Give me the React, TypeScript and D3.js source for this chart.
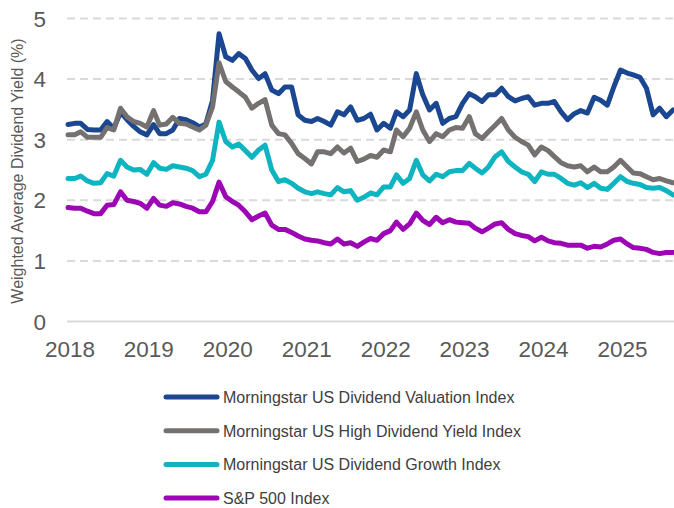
import React from "react";
import * as d3 from "d3";

// Monthly observations, Jan 2018 – Sep 2025
const startMonth = new Date(2018, 0, 1);
const endMonth = new Date(2025, 8, 1);
const months: Date[] = d3.timeMonth.range(startMonth, d3.timeMonth.offset(endMonth, 1));

const valuation = [
  3.25, 3.27, 3.27, 3.17, 3.16, 3.16, 3.30, 3.19, 3.45, 3.33, 3.22, 3.13,
  3.08, 3.25, 3.10, 3.10, 3.16, 3.35, 3.33, 3.28, 3.21, 3.26, 3.65, 4.75,
  4.37, 4.31, 4.42, 4.34, 4.15, 4.01, 4.09, 3.82, 3.76, 3.87, 3.87, 3.41,
  3.32, 3.30, 3.35, 3.30, 3.24, 3.46, 3.41, 3.54, 3.32, 3.35, 3.42, 3.16,
  3.27, 3.19, 3.46, 3.38, 3.49, 4.09, 3.74, 3.49, 3.60, 3.27, 3.35, 3.38,
  3.60, 3.76, 3.71, 3.63, 3.74, 3.74, 3.85, 3.71, 3.64, 3.68, 3.71, 3.57,
  3.60, 3.60, 3.63, 3.46, 3.33, 3.43, 3.48, 3.44, 3.70, 3.65, 3.57, 3.87,
  4.15, 4.10, 4.07, 4.03, 3.85, 3.41, 3.52, 3.38, 3.49,
];

const highYield = [
  3.08, 3.08, 3.13, 3.04, 3.04, 3.04, 3.20, 3.16, 3.52, 3.38, 3.30, 3.27,
  3.21, 3.48, 3.24, 3.26, 3.37, 3.27, 3.26, 3.21, 3.16, 3.24, 3.54, 4.27,
  3.96, 3.87, 3.79, 3.70, 3.52, 3.60, 3.66, 3.24, 3.10, 3.08, 2.94, 2.77,
  2.69, 2.60, 2.80, 2.80, 2.77, 2.88, 2.78, 2.86, 2.64, 2.68, 2.74, 2.71,
  2.83, 2.80, 3.16, 3.05, 3.19, 3.46, 3.16, 2.97, 3.10, 3.05, 3.16, 3.20,
  3.19, 3.38, 3.10, 3.02, 3.13, 3.24, 3.35, 3.16, 3.04, 2.97, 2.91, 2.75,
  2.88, 2.82, 2.72, 2.62, 2.57, 2.55, 2.57, 2.47, 2.55, 2.47, 2.47, 2.55,
  2.66, 2.55, 2.45, 2.44, 2.39, 2.34, 2.36, 2.32, 2.29,
];

const growth = [
  2.36, 2.36, 2.40, 2.32, 2.28, 2.29, 2.44, 2.40, 2.66, 2.55, 2.50, 2.51,
  2.43, 2.62, 2.53, 2.51, 2.57, 2.55, 2.53, 2.49, 2.39, 2.43, 2.66, 3.29,
  2.97, 2.88, 2.93, 2.82, 2.71, 2.83, 2.91, 2.50, 2.31, 2.34, 2.28, 2.20,
  2.14, 2.11, 2.14, 2.11, 2.09, 2.21, 2.14, 2.16, 2.00, 2.05, 2.12, 2.09,
  2.22, 2.22, 2.42, 2.28, 2.36, 2.66, 2.42, 2.32, 2.43, 2.39, 2.47, 2.49,
  2.49, 2.61, 2.53, 2.45, 2.55, 2.72, 2.80, 2.64, 2.55, 2.47, 2.43, 2.31,
  2.47, 2.43, 2.43, 2.36, 2.28, 2.25, 2.29, 2.21, 2.28, 2.20, 2.18, 2.28,
  2.39, 2.31, 2.28, 2.26, 2.21, 2.20, 2.21, 2.16, 2.09,
];

const sp500 = [
  1.88, 1.87, 1.87, 1.82, 1.78, 1.78, 1.92, 1.93, 2.14, 2.00, 1.98, 1.95,
  1.87, 2.03, 1.92, 1.90, 1.96, 1.94, 1.90, 1.87, 1.81, 1.81, 1.98, 2.30,
  2.06, 1.98, 1.92, 1.81, 1.68, 1.74, 1.79, 1.59, 1.52, 1.52, 1.47, 1.41,
  1.36, 1.34, 1.33, 1.30, 1.28, 1.36, 1.28, 1.30, 1.24, 1.31, 1.37, 1.34,
  1.45, 1.50, 1.64, 1.52, 1.61, 1.79, 1.67, 1.60, 1.72, 1.63, 1.68, 1.64,
  1.63, 1.62, 1.54, 1.48, 1.54, 1.61, 1.63, 1.52, 1.45, 1.42, 1.40, 1.33,
  1.39, 1.33, 1.30, 1.29, 1.26, 1.26, 1.26, 1.21, 1.24, 1.23, 1.28, 1.34,
  1.36, 1.28, 1.22, 1.21, 1.19, 1.14, 1.12, 1.14, 1.14,
];

const seriesNames = [
  "Morningstar US Dividend Valuation Index",
  "Morningstar US High Dividend Yield Index",
  "Morningstar US Dividend Growth Index",
  "S&P 500 Index",
];
const seriesValues = [valuation, highYield, growth, sp500];
const seriesColors = ["#1b4690", "#767171", "#0fb4c1", "#9c06b5"];

const yTicks = [0, 1, 2, 3, 4, 5];
const xTickYears = [2018, 2019, 2020, 2021, 2022, 2023, 2024, 2025];
const yAxisTitle = "Weighted Average Dividend Yield (%)";

const W = 674;
const H = 508;
const plotLeft = 67;
const plotRight = 674;
const xStart = 68;
const xEnd = 673;
const yTop = 18.5;
const yBottom = 321.5;

export default function App() {
  const x = d3.scaleTime().domain([startMonth, endMonth]).range([xStart, xEnd]);
  const y = d3.scaleLinear().domain([0, 5]).range([yBottom, yTop]);
  const line = d3
    .line<number>()
    .x((_, i) => x(months[i]))
    .y((v) => y(v))
    .curve(d3.curveLinear);

  const font = "'Liberation Sans', Arial, sans-serif";

  return (
    <svg
      width={W}
      height={H}
      viewBox={`0 0 ${W} ${H}`}
      style={{ position: "absolute", left: 0, top: 0, display: "block", background: "#fff" }}
    >
      {/* gridlines */}
      {yTicks.map((t) => (
        <line
          key={"g" + t}
          x1={plotLeft}
          x2={plotRight}
          y1={y(t)}
          y2={y(t)}
          stroke="#d9d9d9"
          strokeWidth={2}
          strokeDasharray={t === 0 ? undefined : "8 5"}
        />
      ))}
      {/* y tick labels */}
      {yTicks.map((t) => (
        <text
          key={"yl" + t}
          x={46}
          y={y(t) + 8}
          textAnchor="end"
          fontFamily={font}
          fontSize={22.5}
          fill="#595959"
        >
          {t}
        </text>
      ))}
      {/* x tick labels */}
      {xTickYears.map((yr) => (
        <text
          key={"xl" + yr}
          x={x(new Date(yr, 0, 1)) + 2}
          y={357}
          textAnchor="middle"
          fontFamily={font}
          fontSize={22.5}
          fill="#595959"
        >
          {yr}
        </text>
      ))}
      {/* y axis title */}
      <text
        transform={`translate(23, ${(yTop + yBottom) / 2 + 1}) rotate(-90)`}
        textAnchor="middle"
        fontFamily={font}
        fontSize={16}
        fill="#595959"
      >
        {yAxisTitle}
      </text>
      {/* series lines */}
      {seriesValues.map((vals, k) => (
        <path
          key={"s" + k}
          d={line(vals) || ""}
          fill="none"
          stroke={seriesColors[k]}
          strokeWidth={5}
          strokeLinejoin="round"
          strokeLinecap="round"
        />
      ))}
      {/* legend */}
      {seriesNames.map((name, k) => {
        const ly = 397 + k * 33.7;
        return (
          <g key={"lg" + k}>
            <line
              x1={166}
              x2={217}
              y1={ly}
              y2={ly}
              stroke={seriesColors[k]}
              strokeWidth={5}
              strokeLinecap="round"
            />
            <text
              x={223}
              y={ly + 5.8}
              fontFamily={font}
              fontSize={16}
              fill="#404040"
            >
              {name}
            </text>
          </g>
        );
      })}
    </svg>
  );
}
